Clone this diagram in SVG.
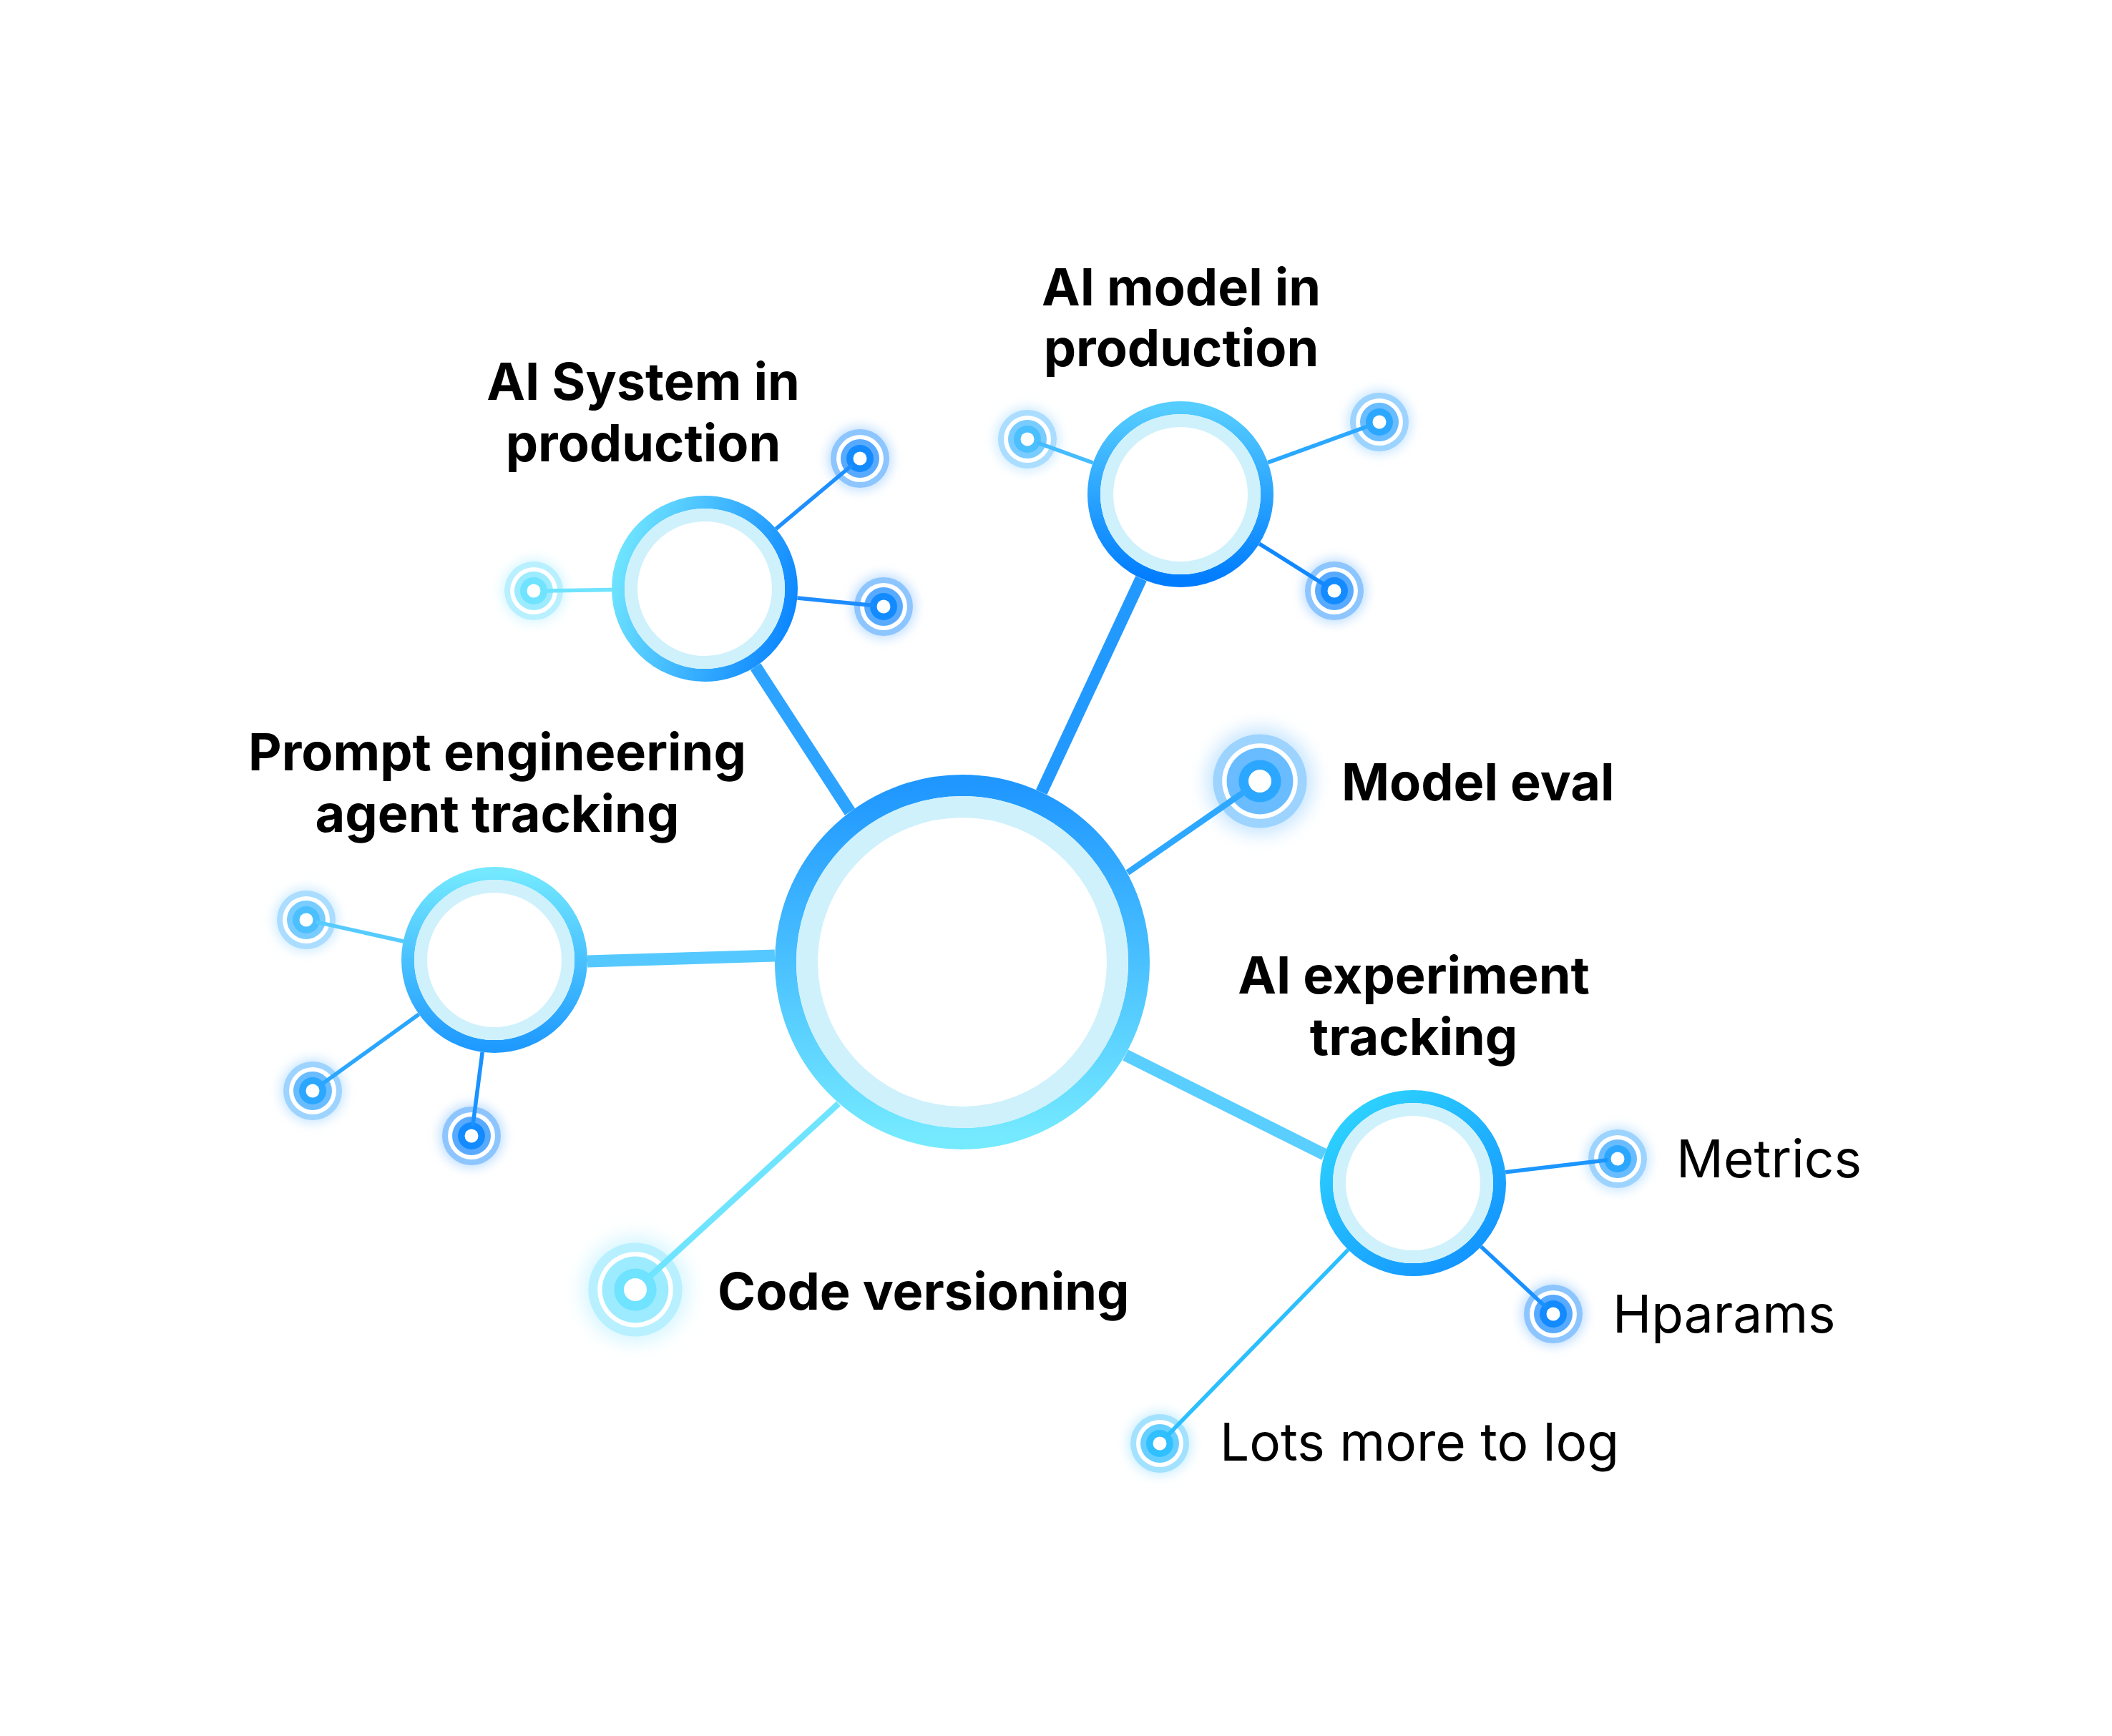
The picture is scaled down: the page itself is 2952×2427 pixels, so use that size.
<svg xmlns="http://www.w3.org/2000/svg" width="2952" height="2427" viewBox="0 0 2952 2427">
<style>
.bg{fill:#ffffff}
.lite{fill:none;stroke:#CEF1FC}
.h{font-family:Inter,"Liberation Sans",Arial,sans-serif;font-weight:700;font-size:72px;fill:#000}
.l{font-family:Inter,"Liberation Sans",Arial,sans-serif;font-weight:400;font-size:73px;fill:#000}
.sat .w{fill:#ffffff}
.glow{filter:url(#blur)}
.cyan .o,.cyan .glow{fill:#B8F0FF}.cyan .m{fill:#9CEBFF}.cyan .i{fill:#6FE3FF}
.teal .o,.teal .glow{fill:#A3E2FF}.teal .m{fill:#66CFFF}.teal .i{fill:#31C0FF}
.sky .o,.sky .glow{fill:#AADDFF}.sky .m{fill:#78CCFF}.sky .i{fill:#4CBFFF}
.mid .o,.mid .glow{fill:#9DD3FF}.mid .m{fill:#68BCFF}.mid .i{fill:#2CA7FF}
.deep .o,.deep .glow{fill:#8DC5FF}.deep .m{fill:#58AAFF}.deep .i{fill:#138BFF}
.glow{opacity:0.55}
#connectors line{fill:none;stroke-linecap:butt}
.thick{stroke-width:17}
.med{stroke-width:8.5}
.thin{stroke-width:5.5}
</style>
<defs>
<filter id="blur" x="-60%" y="-60%" width="220%" height="220%"><feGaussianBlur stdDeviation="7.5"/></filter>
<linearGradient id="gHub" x1="0" y1="0" x2="0" y2="1"><stop offset="0" stop-color="#1F97FF"/><stop offset="1" stop-color="#75EAFF"/></linearGradient>
<linearGradient id="gSys" x1="0" y1="0.35" x2="1" y2="0.65"><stop offset="0" stop-color="#6EE3FF"/><stop offset="1" stop-color="#0E88FF"/></linearGradient>
<linearGradient id="gModel" x1="0" y1="0" x2="0" y2="1"><stop offset="0" stop-color="#56CDFF"/><stop offset="1" stop-color="#007CFF"/></linearGradient>
<linearGradient id="gPrompt" x1="0" y1="0" x2="0" y2="1"><stop offset="0" stop-color="#73E8FF"/><stop offset="1" stop-color="#1F9AFF"/></linearGradient>
<linearGradient id="gExp" x1="0.1" y1="0" x2="0.9" y2="1"><stop offset="0" stop-color="#2FD6FF"/><stop offset="1" stop-color="#1190FF"/></linearGradient>
</defs>
<rect class="bg" x="0" y="0" width="2952" height="2427"/>

<g id="hub">
<circle cx="1345" cy="1345" r="247" fill="#ffffff" stroke="url(#gHub)" stroke-width="30"/>
<circle class="lite" cx="1345" cy="1345" r="217" stroke-width="30"/>
</g>

<g id="ai-system">
<circle cx="985" cy="823" r="121" fill="#ffffff" stroke="url(#gSys)" stroke-width="18"/>
<circle class="lite" cx="985" cy="823" r="103" stroke-width="18"/>
<text class="h" x="899" y="559" text-anchor="middle">AI System in</text>
<text class="h" x="899" y="645" text-anchor="middle">production</text>
</g>

<g id="ai-model">
<circle cx="1650" cy="691" r="121" fill="#ffffff" stroke="url(#gModel)" stroke-width="18"/>
<circle class="lite" cx="1650" cy="691" r="103" stroke-width="18"/>
<text class="h" x="1651" y="427" text-anchor="middle">AI model in</text>
<text class="h" x="1651" y="512" text-anchor="middle">production</text>
</g>

<g id="prompt-engineering">
<circle cx="691" cy="1342" r="121" fill="#ffffff" stroke="url(#gPrompt)" stroke-width="18"/>
<circle class="lite" cx="691" cy="1342" r="103" stroke-width="18"/>
<text class="h" x="695" y="1077" text-anchor="middle">Prompt engineering</text>
<text class="h" x="695" y="1163" text-anchor="middle">agent tracking</text>
</g>

<g id="experiment-tracking">
<circle cx="1975" cy="1654" r="121" fill="#ffffff" stroke="url(#gExp)" stroke-width="18"/>
<circle class="lite" cx="1975" cy="1654" r="103" stroke-width="18"/>
<text class="h" x="1976" y="1389" text-anchor="middle">AI experiment</text>
<text class="h" x="1976" y="1475" text-anchor="middle">tracking</text>
</g>

<g id="sys-sat-left" class="sat cyan" transform="translate(746,826)"><circle class="glow" r="45"/><circle class="o" r="41"/><circle class="w" r="33"/><circle class="m" r="27"/><circle class="i" r="19"/><circle class="w" r="9.5"/></g>
<g id="sys-sat-top" class="sat deep" transform="translate(1202,641)"><circle class="glow" r="45"/><circle class="o" r="41"/><circle class="w" r="33"/><circle class="m" r="27"/><circle class="i" r="19"/><circle class="w" r="9.5"/></g>
<g id="sys-sat-right" class="sat deep" transform="translate(1235,848)"><circle class="glow" r="45"/><circle class="o" r="41"/><circle class="w" r="33"/><circle class="m" r="27"/><circle class="i" r="19"/><circle class="w" r="9.5"/></g>

<g id="model-sat-left" class="sat sky" transform="translate(1436,614)"><circle class="glow" r="45"/><circle class="o" r="41"/><circle class="w" r="33"/><circle class="m" r="27"/><circle class="i" r="19"/><circle class="w" r="9.5"/></g>
<g id="model-sat-right" class="sat mid" transform="translate(1928,590)"><circle class="glow" r="45"/><circle class="o" r="41"/><circle class="w" r="33"/><circle class="m" r="27"/><circle class="i" r="19"/><circle class="w" r="9.5"/></g>
<g id="model-sat-bottom" class="sat deep" transform="translate(1865,826)"><circle class="glow" r="45"/><circle class="o" r="41"/><circle class="w" r="33"/><circle class="m" r="27"/><circle class="i" r="19"/><circle class="w" r="9.5"/></g>

<g id="prompt-sat-top" class="sat sky" transform="translate(428,1286)"><circle class="glow" r="45"/><circle class="o" r="41"/><circle class="w" r="33"/><circle class="m" r="27"/><circle class="i" r="19"/><circle class="w" r="9.5"/></g>
<g id="prompt-sat-left" class="sat mid" transform="translate(437,1525)"><circle class="glow" r="45"/><circle class="o" r="41"/><circle class="w" r="33"/><circle class="m" r="27"/><circle class="i" r="19"/><circle class="w" r="9.5"/></g>
<g id="prompt-sat-bottom" class="sat deep" transform="translate(659,1588)"><circle class="glow" r="45"/><circle class="o" r="41"/><circle class="w" r="33"/><circle class="m" r="27"/><circle class="i" r="19"/><circle class="w" r="9.5"/></g>

<g id="model-eval">
<g class="sat mid" transform="translate(1761,1092) scale(1.6)"><circle class="glow" r="47"/><circle class="o" r="41"/><circle class="w" r="33"/><circle class="m" r="29"/><circle class="i" r="18.5"/><circle class="w" r="10"/></g>
<text class="h" x="1875" y="1119">Model eval</text>
</g>

<g id="code-versioning">
<g class="sat cyan" transform="translate(888,1803) scale(1.6)"><circle class="glow" r="47"/><circle class="o" r="41"/><circle class="w" r="33"/><circle class="m" r="29"/><circle class="i" r="18.5"/><circle class="w" r="10"/></g>
<text class="h" x="1003" y="1831">Code versioning</text>
</g>

<g id="metrics">
<g class="sat mid" transform="translate(2261,1620)"><circle class="glow" r="45"/><circle class="o" r="41"/><circle class="w" r="33"/><circle class="m" r="27"/><circle class="i" r="19"/><circle class="w" r="9.5"/></g>
<text class="l" x="2343" y="1646">Metrics</text>
</g>

<g id="hparams">
<g class="sat deep" transform="translate(2171,1837)"><circle class="glow" r="45"/><circle class="o" r="41"/><circle class="w" r="33"/><circle class="m" r="27"/><circle class="i" r="19"/><circle class="w" r="9.5"/></g>
<text class="l" x="2254" y="1863">Hparams</text>
</g>

<g id="lots-more">
<g class="sat teal" transform="translate(1621,2018)"><circle class="glow" r="45"/><circle class="o" r="41"/><circle class="w" r="33"/><circle class="m" r="27"/><circle class="i" r="19"/><circle class="w" r="9.5"/></g>
<text class="l" x="1705" y="2042">Lots more to log</text>
</g>

<g id="connectors">
<line class="thick" x1="1188" y1="1135" x2="1056" y2="932" stroke="#2CA3FF"/>
<line class="thick" x1="1455.7" y1="1107.5" x2="1595" y2="808.8" stroke="#2299FF"/>
<line class="thick" x1="1083" y1="1336" x2="821" y2="1344" stroke="#55C9FF"/>
<line class="thick" x1="1573" y1="1475" x2="1851" y2="1614" stroke="#59CEFF" stroke-width="16"/>
<line class="med" x1="1576" y1="1220" x2="1742" y2="1105" stroke="#2EA8FF"/>
<line class="med" x1="1172" y1="1543" x2="905" y2="1787.5" stroke="#6FE4FF"/>
<line class="thin" x1="855" y1="824.6" x2="760" y2="826" stroke="#6FE3FF"/>
<line class="thin" x1="1084.6" y1="739.4" x2="1191.3" y2="650" stroke="#1E8FFF"/>
<line class="thin" x1="1114.4" y1="835.9" x2="1221.1" y2="846.6" stroke="#1D8CFF"/>
<line class="thin" x1="1527.7" y1="647" x2="1449.2" y2="618.7" stroke="#45BCFF"/>
<line class="thin" x1="1772.2" y1="646.6" x2="1914.8" y2="594.8" stroke="#2BA8FF"/>
<line class="thin" x1="1760.1" y1="760.1" x2="1853.1" y2="818.6" stroke="#1288FF"/>
<line class="thin" x1="563.9" y1="1316" x2="441.7" y2="1288.9" stroke="#55CBFF"/>
<line class="thin" x1="585.5" y1="1418" x2="448.4" y2="1516.8" stroke="#2AA6FF"/>
<line class="thin" x1="674.2" y1="1470.9" x2="660.8" y2="1574.1" stroke="#1A92FF"/>
<line class="thin" x1="2104.1" y1="1638.7" x2="2247.1" y2="1621.7" stroke="#1C96FF"/>
<line class="thin" x1="2070" y1="1742.7" x2="2160.8" y2="1827.4" stroke="#1A90FF"/>
<line class="thin" x1="1884.4" y1="1747.2" x2="1630.8" y2="2008" stroke="#2BBFFF" stroke-width="4.5"/>
</g>
</svg>
